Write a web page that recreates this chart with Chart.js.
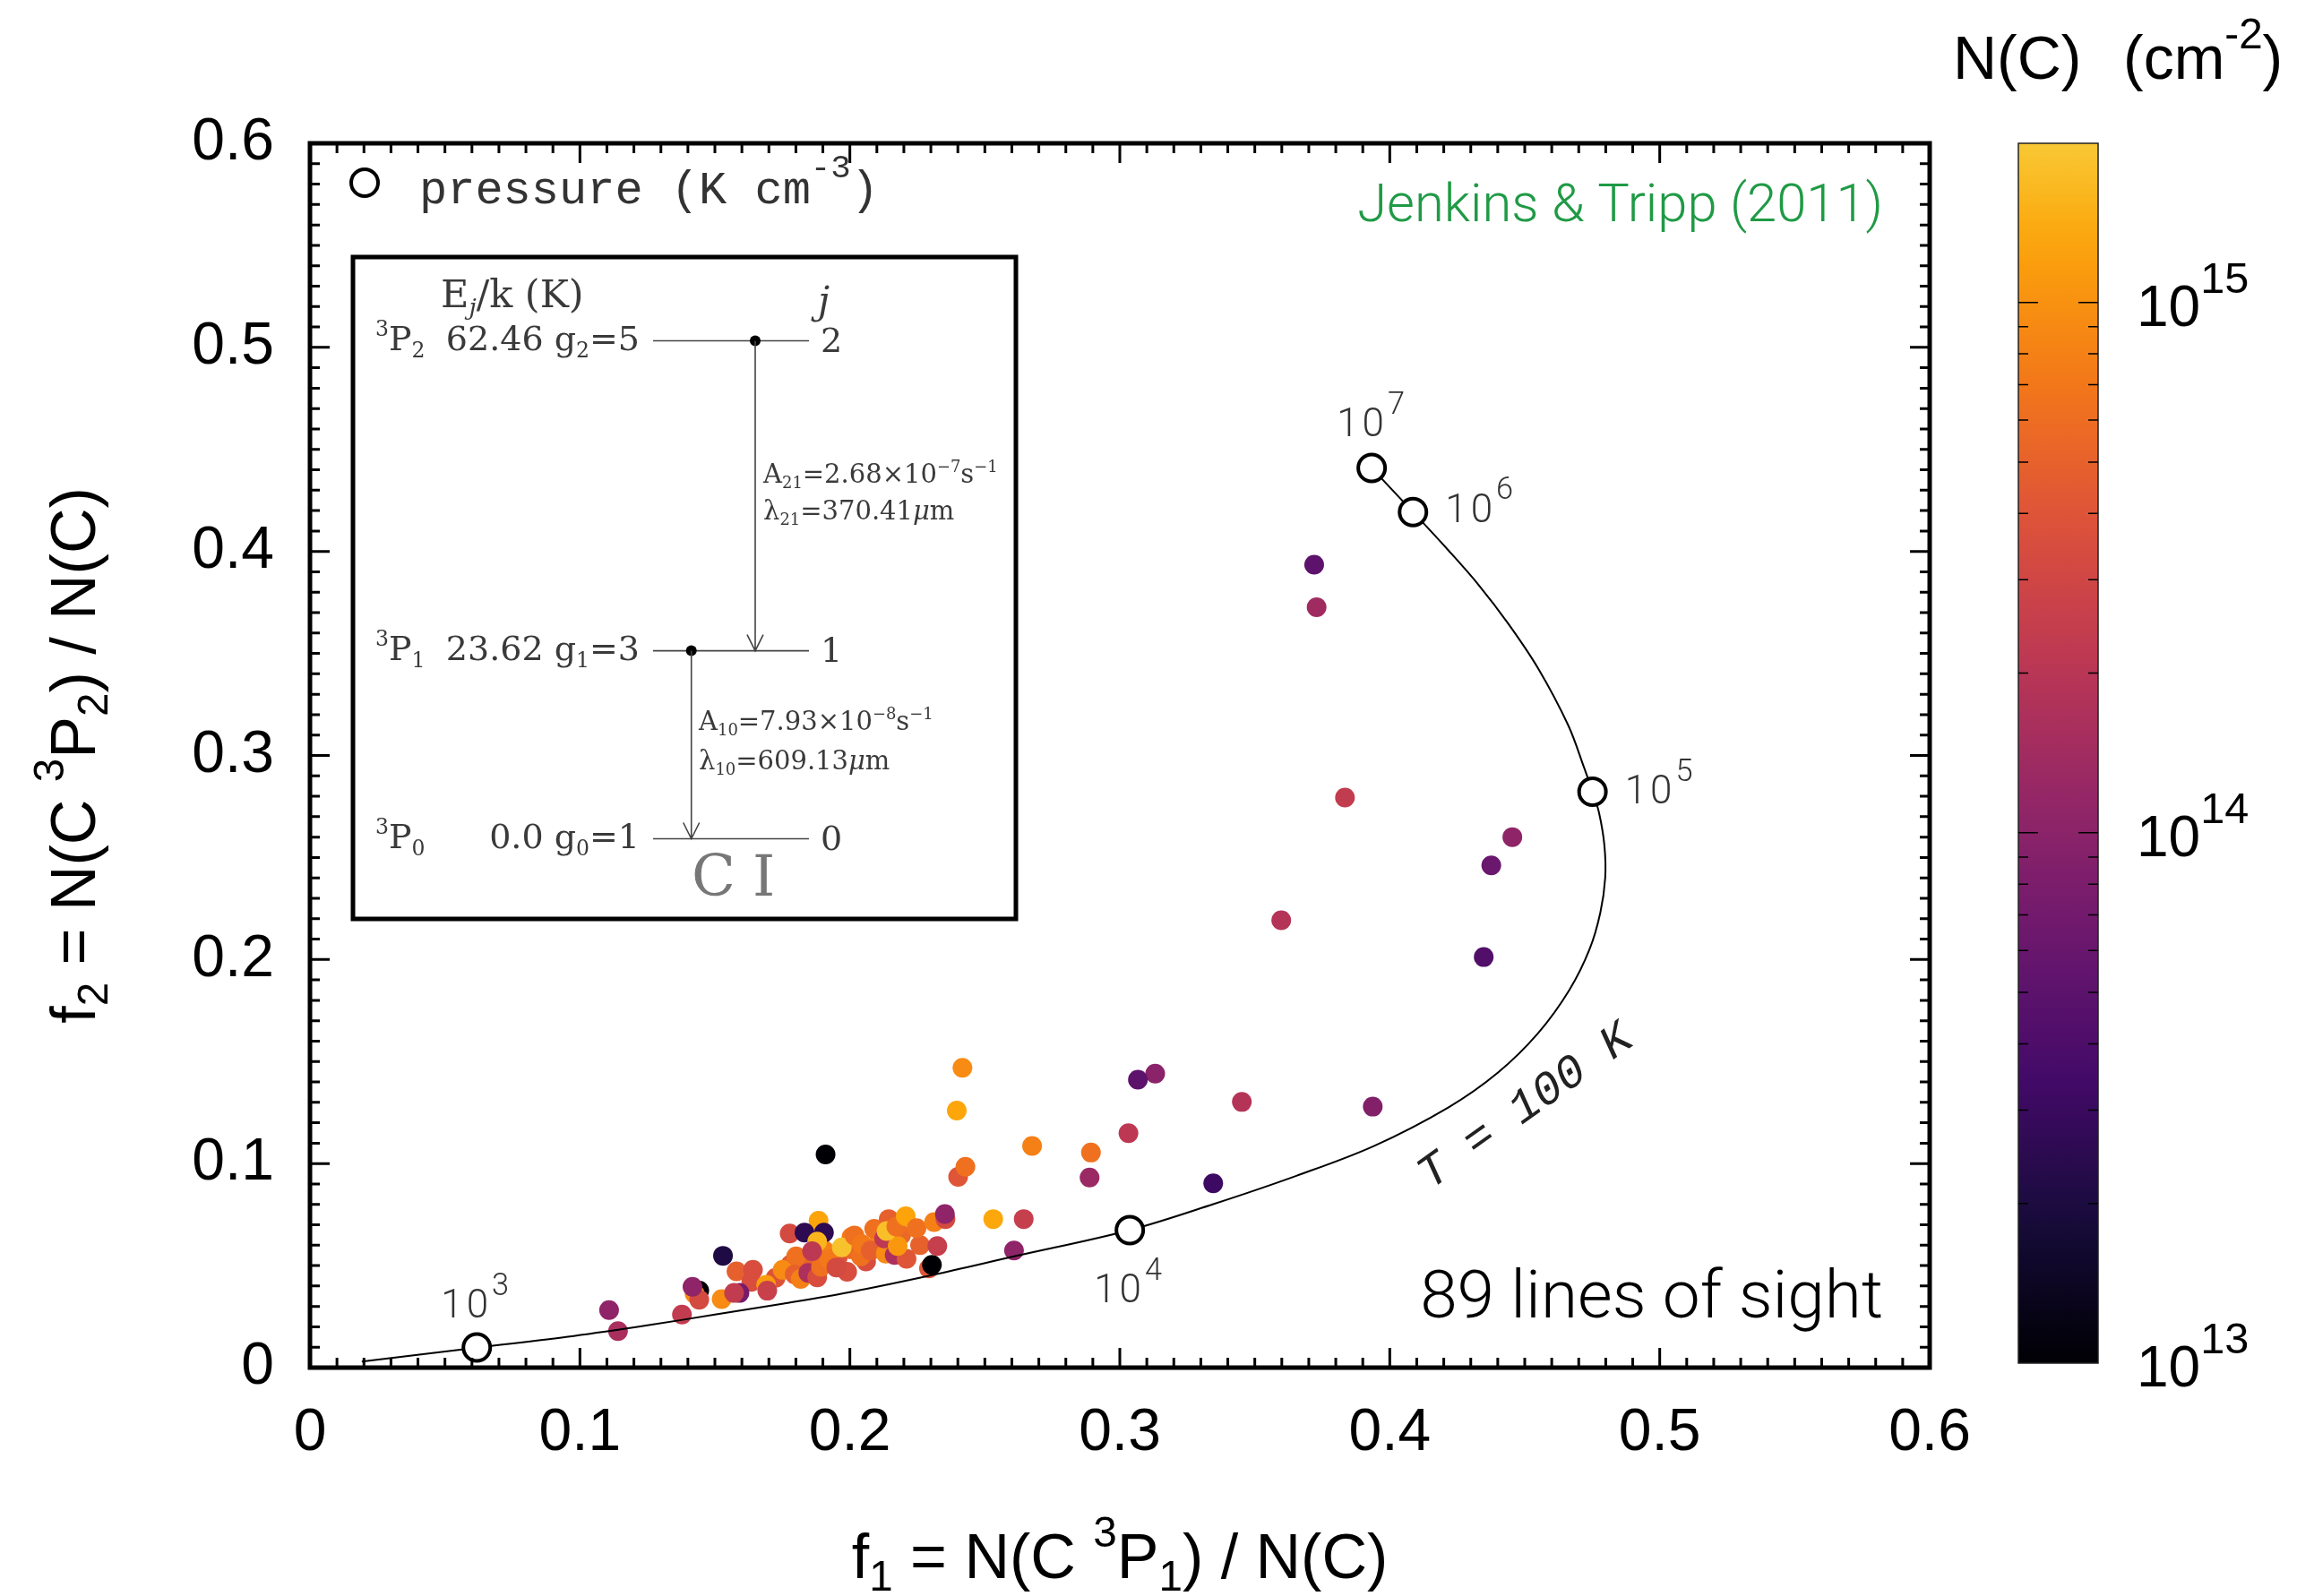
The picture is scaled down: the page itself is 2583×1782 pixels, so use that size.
<!DOCTYPE html>
<html>
<head>
<meta charset="utf-8">
<title>C I excitation: f1 vs f2</title>
<script src="https://cdn.jsdelivr.net/npm/chart.js@4.4.1/dist/chart.umd.min.js"></script>
<style>
  html, body { margin: 0; padding: 0; background: #fff; }
  #wrap { width: 2583px; height: 1782px; }
</style>
</head>
<body>
<div id="wrap"><canvas id="chart" width="2583" height="1782"></canvas></div>
<script>
// ---- values ----

// one entry per line of sight: f1, f2 and log10 N(C) (cm^-2)
const sightF1 = [
  0.1840, 0.1905, 0.1955, 0.2005, 0.2060, 0.2100, 0.1780, 0.2090, 0.2190, 0.1725, 0.2260, 0.1990,
  0.1108, 0.1141, 0.1378, 0.1442, 0.1425, 0.1442, 0.1417, 0.1530, 0.1525, 0.1580, 0.1641, 0.1635,
  0.1591, 0.1571, 0.1690, 0.1694, 0.1751, 0.1777, 0.1884, 0.1832, 0.1904, 0.2006, 0.1879, 0.1801,
  0.1796, 0.1818, 0.1846, 0.1879, 0.1893, 0.1923, 0.1860, 0.1950, 0.1970, 0.2017, 0.2041, 0.2044,
  0.2077, 0.2133, 0.2166, 0.2210, 0.2127, 0.2177, 0.2144, 0.2136, 0.2172, 0.2207, 0.2247, 0.2293,
  0.2304, 0.2324, 0.2312, 0.2354, 0.2352, 0.2401, 0.2428, 0.2396, 0.2417, 0.2531, 0.2644, 0.2608,
  0.2675, 0.2888, 0.2893, 0.3032, 0.3131, 0.3067, 0.3452, 0.3346, 0.3937, 0.3598, 0.3834, 0.3729,
  0.3720, 0.4454, 0.4376, 0.4348, 0.1910
];
const sightF2 = [
  0.0520, 0.0575, 0.0540, 0.0580, 0.0520, 0.0600, 0.0505, 0.0680, 0.0650, 0.0440, 0.0600, 0.0470,
  0.0282, 0.0179, 0.0260, 0.0377, 0.0362, 0.0333, 0.0396, 0.0548, 0.0336, 0.0472, 0.0479, 0.0420,
  0.0366, 0.0366, 0.0406, 0.0377, 0.0479, 0.0657, 0.0720, 0.0662, 0.0662, 0.0640, 0.0618, 0.0545,
  0.0457, 0.0435, 0.0464, 0.0442, 0.0494, 0.0530, 0.0571, 0.0491, 0.0589, 0.0647, 0.0545, 0.0606,
  0.0574, 0.0559, 0.0552, 0.0533, 0.0633, 0.0596, 0.0728, 0.0669, 0.0691, 0.0742, 0.0684, 0.0486,
  0.0504, 0.0596, 0.0713, 0.0728, 0.0753, 0.0935, 0.0984, 0.1260, 0.1469, 0.0728, 0.0728, 0.0574,
  0.1086, 0.0932, 0.1054, 0.1149, 0.1441, 0.1411, 0.1302, 0.0903, 0.1279, 0.2192, 0.2794, 0.3726,
  0.3935, 0.2600, 0.2461, 0.2012, 0.1045
];
const sightLogN = [
  14.70, 14.90, 14.60, 14.75, 14.55, 14.90, 14.65, 14.80, 14.75, 14.60, 14.70, 14.55,
  14.03, 14.20, 14.37, 13.00, 14.96, 14.51, 14.03, 13.32, 14.96, 14.69, 14.55, 14.55,
  13.87, 14.37, 15.06, 14.42, 14.96, 14.51, 15.11, 13.40, 13.40, 14.85, 15.20, 14.80,
  14.69, 14.90, 14.22, 14.55, 14.80, 14.85, 14.33, 14.51, 15.27, 14.80, 14.80, 14.85,
  14.69, 14.96, 14.22, 14.61, 14.33, 15.04, 14.69, 15.25, 14.80, 15.11, 14.80, 14.61,
  13.00, 14.40, 14.90, 14.51, 14.03, 14.61, 14.80, 15.12, 14.96, 15.13, 14.40, 14.03,
  14.90, 14.10, 14.80, 14.33, 14.00, 13.71, 14.27, 13.50, 13.95, 14.27, 14.37, 14.14,
  13.71, 14.03, 13.79, 13.63, 13.00
];

// T = 100 K track
const trackF1 = [0.0192, 0.0618, 0.0977, 0.1250, 0.1500, 0.1750, 0.2000, 0.2300, 0.2608, 0.3037,
  0.3346, 0.3654, 0.3941, 0.4218, 0.4400, 0.4550, 0.4665, 0.4740, 0.4780, 0.4798, 0.4795, 0.4775,
  0.4751, 0.4720, 0.4661, 0.4550, 0.4439, 0.4329, 0.4218, 0.4086, 0.3933];
const trackF2 = [0.0030, 0.0098, 0.0155, 0.0207, 0.0260, 0.0313, 0.0370, 0.0452, 0.0545, 0.0674,
  0.0801, 0.0940, 0.1086, 0.1276, 0.1445, 0.1640, 0.1850, 0.2050, 0.2230, 0.2400, 0.2560, 0.2720,
  0.2822, 0.2940, 0.3148, 0.3426, 0.3646, 0.3836, 0.4004, 0.4193, 0.4409];

// pressure markers on the track (log10 p/k, K cm^-3)
const pressureF1 = [0.0618, 0.3037, 0.4751, 0.4086, 0.3933];
const pressureF2 = [0.0099, 0.0674, 0.2822, 0.4193, 0.4409];
const pressureExp = [3, 4, 5, 6, 7];

// axes
const axisMin = 0;
const axisMax = 0.6;
const majorStep = 0.1;
const minorStep = 0.01;
const colorbarExp = [13, 14, 15];
const colorbarMin = 13;
const colorbarMax = 15.3;

// ---- styling ----
const SANS = '"Liberation Sans", Arial, sans-serif';
const LIGHT = 'Roboto, "Liberation Sans", sans-serif';
const MONO = '"Liberation Mono", "DejaVu Sans Mono", monospace';
const SERIF = '"DejaVu Serif", "Liberation Serif", serif';

// label offsets (px) from each pressure marker to the left/baseline of its "10"
const pressureLabelOffset = [[-40, -33], [-40, 81], [36, 13], [36, 11], [-39, -35]];

// inferno colour map, the figure uses roughly the lower 87 % of it
const infernoStops = ['#000004', '#160b39', '#420a68', '#6a176e', '#932667', '#bc3754',
  '#dd513a', '#f37819', '#fca50a', '#f6d746', '#fcffa4'];
const cmapTop = 0.87;

function hexToRgb(h) {
  return [parseInt(h.slice(1, 3), 16), parseInt(h.slice(3, 5), 16), parseInt(h.slice(5, 7), 16)];
}
function inferno(t) {
  const s = Math.max(0, Math.min(1, t)) * (infernoStops.length - 1);
  const i = Math.min(Math.floor(s), infernoStops.length - 2);
  const f = s - i;
  const a = hexToRgb(infernoStops[i]), b = hexToRgb(infernoStops[i + 1]);
  const c = a.map((v, k) => Math.round(v + (b[k] - v) * f));
  return `rgb(${c[0]},${c[1]},${c[2]})`;
}
function colorFor(logN) {
  return inferno((logN - colorbarMin) / (colorbarMax - colorbarMin) * cmapTop);
}

// draw a string made of pieces, some raised or lowered
function drawRich(ctx, parts, x, y, o) {
  const size = o.size;
  const small = size * (o.scriptScale || 0.66);
  const fontOf = (kind, style) =>
    `${style || o.style || 'normal'} ${o.weight || 400} ${kind ? small : size}px ${o.family}`;
  let total = 0;
  const widths = parts.map(p => {
    ctx.font = fontOf(p[1], p[2]);
    const w = ctx.measureText(p[0]).width;
    total += w;
    return w;
  });
  let cx = o.align === 'center' ? x - total / 2 : o.align === 'right' ? x - total : x;
  ctx.fillStyle = o.color || '#000';
  ctx.textAlign = 'left';
  ctx.textBaseline = 'alphabetic';
  parts.forEach((p, i) => {
    ctx.font = fontOf(p[1], p[2]);
    const dy = p[1] === 'sup' ? -size * (o.rise || 0.45) : p[1] === 'sub' ? size * (o.drop || 0.18) : 0;
    ctx.fillText(p[0], cx, y + dy);
    cx += widths[i];
  });
  return total;
}

// set a font size so that the text has the wanted width
function fitFont(ctx, text, family, weight, width, guess) {
  ctx.font = `${weight} ${guess}px ${family}`;
  const w = ctx.measureText(text).width;
  return guess * width / w;
}

function drawFrame(ctx, chart) {
  const a = chart.chartArea;
  const xs = chart.scales.x, ys = chart.scales.y;
  ctx.save();
  ctx.strokeStyle = '#000';
  ctx.lineWidth = 3;
  const n = Math.round((axisMax - axisMin) / minorStep);
  for (let i = 0; i <= n; i++) {
    const v = axisMin + i * minorStep;
    const len = i % Math.round(majorStep / minorStep) === 0 ? 22 : 11;
    const px = xs.getPixelForValue(v);
    const py = ys.getPixelForValue(v);
    ctx.beginPath();
    ctx.moveTo(px, a.bottom); ctx.lineTo(px, a.bottom - len);
    ctx.moveTo(px, a.top); ctx.lineTo(px, a.top + len);
    ctx.moveTo(a.left, py); ctx.lineTo(a.left + len, py);
    ctx.moveTo(a.right, py); ctx.lineTo(a.right - len, py);
    ctx.stroke();
  }
  ctx.lineWidth = 5;
  ctx.strokeRect(a.left, a.top, a.right - a.left, a.bottom - a.top);
  ctx.restore();
}

function drawTitles(ctx, chart) {
  const a = chart.chartArea;
  const cx = (a.left + a.right) / 2;
  const cy = (a.top + a.bottom) / 2;
  const opt = { family: SANS, size: 70, align: 'center', rise: 0.5, drop: 0.2, scriptScale: 0.68 };
  drawRich(ctx, [['f', ''], ['1', 'sub'], [' = N(C ', ''], ['3', 'sup'], ['P', ''], ['1', 'sub'], [') / N(C)', '']],
    cx, 1762, opt);
  ctx.save();
  ctx.translate(106, cy);
  ctx.rotate(-Math.PI / 2);
  drawRich(ctx, [['f', ''], ['2', 'sub'], [' = N(C ', ''], ['3', 'sup'], ['P', ''], ['2', 'sub'], [') / N(C)', '']],
    0, 0, opt);
  ctx.restore();
}

function drawAnnotations(ctx, chart) {
  const xs = chart.scales.x, ys = chart.scales.y;
  ctx.save();

  // legend entry for the open circles
  ctx.beginPath();
  ctx.arc(407, 204, 15, 0, Math.PI * 2);
  ctx.lineWidth = 4;
  ctx.strokeStyle = '#000';
  ctx.stroke();
  drawRich(ctx, [['pressure (K cm', ''], ['-3', 'sup'], [')', '']], 468, 227,
    { family: MONO, size: 52, color: '#333', rise: 0.55, scriptScale: 0.72 });

  // source and sample size
  let fs = fitFont(ctx, 'Jenkins & Tripp (2011)', LIGHT, 300, 587, 60);
  drawRich(ctx, [['Jenkins & Tripp (2011)', '']], 2102, 247,
    { family: LIGHT, weight: 300, size: fs, color: '#1f9a45', align: 'right' });
  fs = fitFont(ctx, '89 lines of sight', LIGHT, 300, 517, 76);
  drawRich(ctx, [['89 lines of sight', '']], 2102, 1471,
    { family: LIGHT, weight: 300, size: fs, color: '#000', align: 'right' });

  // pressure labels next to the markers
  if ('letterSpacing' in ctx) ctx.letterSpacing = '4px';
  pressureExp.forEach((e, i) => {
    const px = xs.getPixelForValue(pressureF1[i]);
    const py = ys.getPixelForValue(pressureF2[i]);
    drawRich(ctx, [['10', ''], [String(e), 'sup']], px + pressureLabelOffset[i][0], py + pressureLabelOffset[i][1],
      { family: LIGHT, weight: 300, size: 44, color: '#333', rise: 0.58, scriptScale: 0.78 });
  });
  if ('letterSpacing' in ctx) ctx.letterSpacing = '0px';

  // curve label
  ctx.translate(1703, 1236);
  ctx.rotate(-35.5 * Math.PI / 180);
  ctx.font = `italic 400 52px ${MONO}`;
  ctx.fillStyle = '#222';
  ctx.textAlign = 'center';
  ctx.textBaseline = 'middle';
  ctx.fillText('T = 100 K', 0, 0);
  ctx.restore();
}

function drawInset(ctx) {
  const box = { x: 394, y: 287, w: 740, h: 739 };
  const ink = '#3a3a3a';
  ctx.save();
  ctx.fillStyle = '#fff';
  ctx.fillRect(box.x, box.y, box.w, box.h);
  ctx.lineWidth = 5;
  ctx.strokeStyle = '#000';
  ctx.strokeRect(box.x, box.y, box.w, box.h);

  const txt = { family: SERIF, size: 38, color: ink, rise: 0.4, drop: 0.22, scriptScale: 0.62 };
  drawRich(ctx, [['E', ''], ['j', 'sub', 'italic'], ['/k (K)', '']], 492, 343, { ...txt, size: 43 });
  drawRich(ctx, [['j', '', 'italic']], 913, 350, { ...txt, size: 42 });

  const lineL = 729, lineR = 903;
  const levels = [
    { y: 380.5, j: '2', e: '62.46', g: '5' },
    { y: 726.6, j: '1', e: '23.62', g: '3' },
    { y: 936.5, j: '0', e: '0.0', g: '1' }
  ];
  ctx.strokeStyle = '#444';
  ctx.lineWidth = 1.6;
  levels.forEach(l => {
    ctx.beginPath();
    ctx.moveTo(lineL, l.y); ctx.lineTo(lineR, l.y);
    ctx.stroke();
    drawRich(ctx, [['3', 'sup'], ['P', ''], [l.j, 'sub']], 419, l.y + 10, txt);
    drawRich(ctx, [[l.e + ' g', ''], [l.j, 'sub'], ['=' + l.g, '']], 714, l.y + 10, { ...txt, align: 'right' });
    drawRich(ctx, [[l.j, '']], 916, l.y + 12, txt);
  });

  // transitions: dot at upper level, arrow down to lower level
  const arrows = [{ x: 843, y0: 380.5, y1: 726.6 }, { x: 771.7, y0: 726.6, y1: 936.5 }];
  arrows.forEach(a => {
    ctx.fillStyle = '#000';
    ctx.beginPath();
    ctx.arc(a.x, a.y0, 6, 0, Math.PI * 2);
    ctx.fill();
    ctx.beginPath();
    ctx.moveTo(a.x, a.y0); ctx.lineTo(a.x, a.y1);
    ctx.moveTo(a.x - 9, a.y1 - 18); ctx.lineTo(a.x, a.y1); ctx.lineTo(a.x + 9, a.y1 - 18);
    ctx.stroke();
  });

  const small = { ...txt, size: 29 };
  drawRich(ctx, [['A', ''], ['21', 'sub'], ['=2.68\u00d710', ''], ['\u22127', 'sup'], ['s', ''], ['\u22121', 'sup']], 852, 539, small);
  drawRich(ctx, [['\u03bb', ''], ['21', 'sub'], ['=370.41', ''], ['\u03bc', '', 'italic'], ['m', '']], 852, 580, small);
  drawRich(ctx, [['A', ''], ['10', 'sub'], ['=7.93\u00d710', ''], ['\u22128', 'sup'], ['s', ''], ['\u22121', 'sup']], 780, 815, small);
  drawRich(ctx, [['\u03bb', ''], ['10', 'sub'], ['=609.13', ''], ['\u03bc', '', 'italic'], ['m', '']], 780, 859, small);

  ctx.font = `400 64px ${SERIF}`;
  ctx.fillStyle = '#777';
  ctx.textAlign = 'left';
  ctx.textBaseline = 'alphabetic';
  ctx.fillText('C', 772, 1000);
  ctx.fillText('I', 840, 1000);
  ctx.restore();
}

function drawColorbar(ctx) {
  const cb = { x: 2253, y: 160, w: 89, h: 1362 };
  const yOf = e => cb.y + cb.h * (colorbarMax - e) / (colorbarMax - colorbarMin);
  ctx.save();
  const grad = ctx.createLinearGradient(0, cb.y + cb.h, 0, cb.y);
  for (let k = 0; k <= 30; k++) {
    const t = k / 30;
    grad.addColorStop(t, colorFor(colorbarMin + t * (colorbarMax - colorbarMin)));
  }
  ctx.fillStyle = grad;
  ctx.fillRect(cb.x, cb.y, cb.w, cb.h);
  ctx.strokeStyle = '#222';
  ctx.lineWidth = 1.5;
  ctx.strokeRect(cb.x, cb.y, cb.w, cb.h);

  // log ticks inside both edges
  ctx.strokeStyle = '#000';
  for (let d = Math.floor(colorbarMin); d < colorbarMax; d++) {
    for (let m = 1; m <= 9; m++) {
      const e = d + Math.log10(m);
      if (e <= colorbarMin || e >= colorbarMax) continue;
      const len = m === 1 ? 22 : 11;
      const y = yOf(e);
      ctx.beginPath();
      ctx.moveTo(cb.x, y); ctx.lineTo(cb.x + len, y);
      ctx.moveTo(cb.x + cb.w, y); ctx.lineTo(cb.x + cb.w - len, y);
      ctx.stroke();
    }
  }
  colorbarExp.forEach(e => {
    drawRich(ctx, [['10', ''], [String(e), 'sup']], 2385, yOf(e) + 26,
      { family: SANS, size: 64, rise: 0.58, scriptScale: 0.76 });
  });

  drawRich(ctx, [['N(C)', '']], 2180, 88, { family: SANS, size: 68 });
  drawRich(ctx, [['(cm', ''], ['-2', 'sup'], [')', '']], 2370, 88,
    { family: SANS, size: 68, rise: 0.5, scriptScale: 0.7 });
  ctx.restore();
}

const decorPlugin = {
  id: 'decor',
  afterDraw(chart) {
    const ctx = chart.ctx;
    drawFrame(ctx, chart);
    drawAnnotations(ctx, chart);
    drawInset(ctx);
    drawColorbar(ctx);
    drawTitles(ctx, chart);
  }
};

const fmt = v => (Math.abs(v) < 1e-9 ? '0' : v.toFixed(1));

Chart.defaults.font.family = SANS;

new Chart(document.getElementById('chart'), {
  type: 'scatter',
  data: {
    datasets: [
      {
        // open pressure markers, drawn on top
        label: 'pressure',
        data: pressureF1.map((x, i) => ({ x, y: pressureF2[i] })),
        pointRadius: 15,
        pointBorderWidth: 4,
        pointBackgroundColor: '#fff',
        pointBorderColor: '#000'
      },
      {
        label: 'T = 100 K',
        data: trackF1.map((x, i) => ({ x, y: trackF2[i] })),
        showLine: true,
        borderColor: '#000',
        borderWidth: 2,
        pointRadius: 0,
        tension: 0.35
      },
      {
        label: 'lines of sight',
        data: sightF1.map((x, i) => ({ x, y: sightF2[i] })),
        pointRadius: 11,
        pointBorderWidth: 0,
        pointBackgroundColor: sightLogN.map(colorFor)
      }
    ]
  },
  options: {
    responsive: false,
    animation: false,
    devicePixelRatio: 1,
    layout: { padding: { left: 0, right: 429, top: 160, bottom: 0 } },
    plugins: { legend: { display: false }, tooltip: { enabled: false } },
    scales: {
      x: {
        type: 'linear', min: axisMin, max: axisMax,
        grid: { display: false, drawTicks: false },
        border: { display: false },
        ticks: { stepSize: majorStep, autoSkip: false, padding: 34, color: '#000',
          font: { size: 66 }, callback: fmt },
        afterFit: s => { s.height = 255; s.paddingLeft = 0; s.paddingRight = 0; }
      },
      y: {
        type: 'linear', min: axisMin, max: axisMax,
        grid: { display: false, drawTicks: false },
        border: { display: false },
        ticks: { stepSize: majorStep, autoSkip: false, padding: 40, color: '#000',
          font: { size: 66 }, callback: fmt },
        afterFit: s => { s.width = 346; s.paddingTop = 0; s.paddingBottom = 0; }
      }
    }
  },
  plugins: [decorPlugin]
});
</script>
</body>
</html>
